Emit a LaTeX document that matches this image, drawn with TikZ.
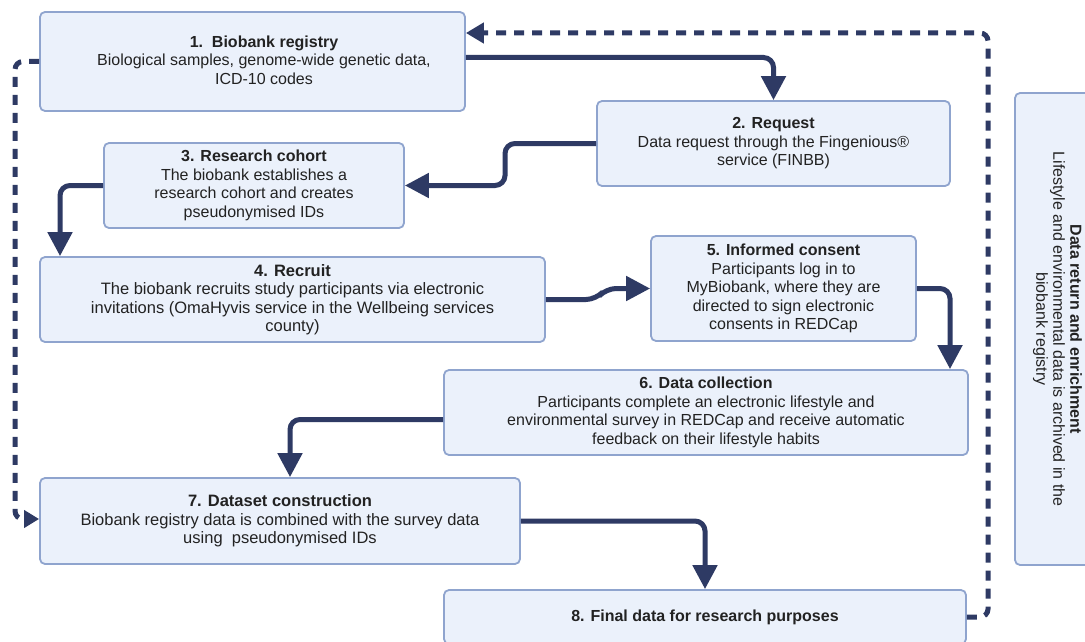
\documentclass[tikz,border=0pt]{standalone}
\usepackage{fontspec}
\setmainfont{Liberation Sans}
\usetikzlibrary{arrows.meta}
\definecolor{boxfill}{HTML}{EBF1FB}
\definecolor{boxline}{HTML}{8FA4CE}
\definecolor{navy}{HTML}{2E3A64}
\definecolor{txt}{HTML}{222222}
\begin{document}
\begin{tikzpicture}[x=1pt,y=-1pt,
 stepbox/.style={draw=boxline, line width=1.8pt, fill=boxfill, rounded corners=5pt, align=center, text=txt, font=\fontsize{16}{18.5}\selectfont, inner sep=0pt},
 steptext/.style={align=center, text=txt, font=\fontsize{16}{18.5}\selectfont, inner sep=0pt},
 flow/.style={draw=navy, line width=5pt, rounded corners=10pt, -{Triangle[width=24pt,length=24pt]}},
 back/.style={draw=navy, line width=5pt, dash pattern=on 10pt off 8pt, rounded corners=8pt, -{Triangle[width=20pt,length=18pt]}},
 backsmall/.style={back, -{Triangle[width=17pt,length=15pt]}}]
\clip (0,0) rectangle (1085,642);
\fill[white] (0,0) rectangle (1085,642);

\node[stepbox, minimum width=425pt, minimum height=99pt] (b1) at (252.5,61.5) {};
\node[steptext] (t1) at (264,60)
  {\textbf{1.\ \ Biobank registry}\\Biological samples, genome-wide genetic data,\\ICD-10 codes};
\node[stepbox, minimum width=353pt, minimum height=85pt] (b2) at (773.5,143.5)
  {\textbf{2. Request}\\Data request through the Fingenious®\\service (FINBB)};
\node[stepbox, minimum width=300pt, minimum height=85pt] (b3) at (254,185.5)
  {\textbf{3. Research cohort}\\The biobank establishes a\\research cohort and creates\\pseudonymised IDs};
\node[stepbox, minimum width=505pt, minimum height=85pt, font=\fontsize{16.5}{18.5}\selectfont] (b4) at (292.5,299.5)
  {\textbf{4. Recruit}\\The biobank recruits study participants via electronic\\invitations (OmaHyvis service in the Wellbeing services\\county)};
\node[stepbox, minimum width=265pt, minimum height=105pt] (b5) at (783.5,288.5)
  {\textbf{5. Informed consent}\\Participants log in to\\MyBiobank, where they are\\directed to sign electronic\\consents in REDCap};
\node[stepbox, minimum width=524pt, minimum height=85pt] (b6) at (706,412.5)
  {\textbf{6. Data collection}\\Participants complete an electronic lifestyle and\\environmental survey in REDCap and receive automatic\\feedback on their lifestyle habits};
\node[stepbox, minimum width=480pt, minimum height=86pt, font=\fontsize{16.5}{18.5}\selectfont] (b7) at (280,521)
  {\textbf{7. Dataset construction}\\Biobank registry data is combined with the survey data\\using\ \ pseudonymised IDs};
\node[stepbox, minimum width=522pt, minimum height=54pt] (b8) at (705,617)
  {\textbf{8. Final data for research purposes}};
\node[stepbox, rotate=-90, minimum width=472pt, minimum height=85pt, font=\fontsize{16}{17}\selectfont] (b9) at (1057.5,329)
  {\textbf{Data return and enrichment}\\Lifestyle and environmental data is archived in the\\biobank registry};

\draw[flow] ([yshift=4pt]b1.east) -| (b2.north);
\draw[flow] (b2.west) -- (b2.west -| 505,0) |- (b3.east);
\draw[flow] (b3.west) -| (b4.north -| 60,0);
\draw[flow] (b4.east) -- (596,299.5) -- (606,288.5) -- (b5.west);
\draw[flow] (b5.east) -| (b6.north -| 950,0);
\draw[flow] ([yshift=-7pt]b6.west) -| (b7.north -| 290,0);
\draw[flow] (b7.east) -| (b8.north);

\draw[back] (b8.east) -- (988,617) -- (988,33) -- (b1.east |- 0,33);
\draw[backsmall] (b1.west) -- (15,61.5) -- (15,519) -- (b7.west |- 0,519);
\end{tikzpicture}
\end{document}
